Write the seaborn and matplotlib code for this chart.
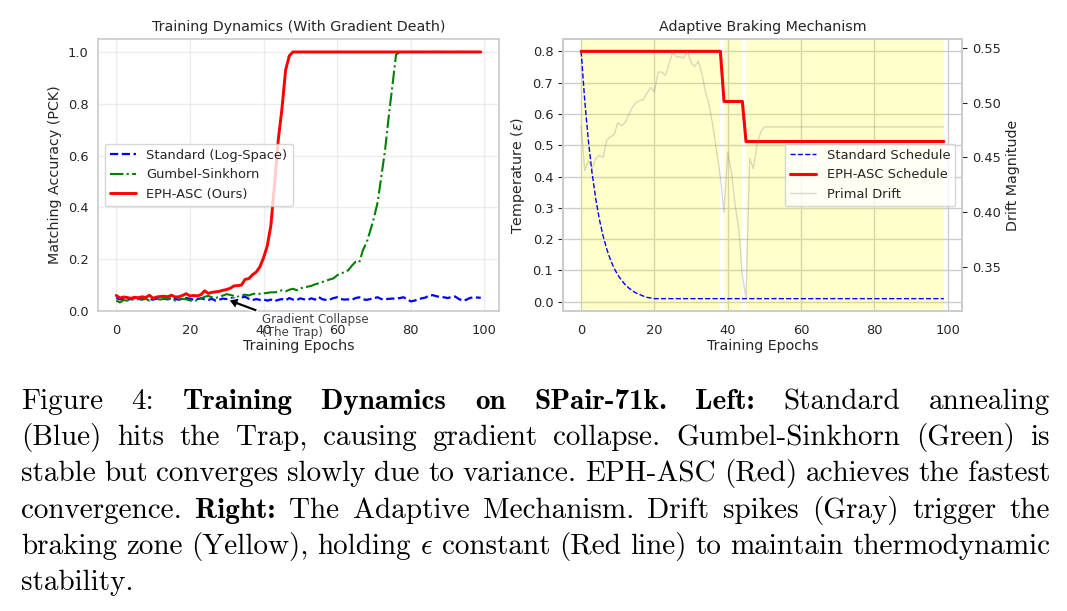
import matplotlib
matplotlib.use("Agg")
import matplotlib.pyplot as plt
from matplotlib.ticker import MultipleLocator
import seaborn as sns
import pandas as pd

W, H = 1067, 611

epochs = list(range(100))

# left panel: matching accuracy (PCK) per epoch
standard_acc = [0.050, 0.045, 0.048, 0.044, 0.046, 0.050, 0.047, 0.045, 0.049, 0.046,
                0.044, 0.048, 0.050, 0.047, 0.045, 0.049, 0.046, 0.044, 0.048, 0.050,
                0.047, 0.044, 0.046, 0.049, 0.045, 0.043, 0.047, 0.040, 0.044, 0.048,
                0.046, 0.050, 0.048, 0.044, 0.052, 0.055, 0.047, 0.042, 0.046, 0.043,
                0.045, 0.040, 0.044, 0.038, 0.043, 0.046, 0.041, 0.050, 0.044, 0.042,
                0.049, 0.045, 0.043, 0.049, 0.044, 0.054, 0.045, 0.043, 0.044, 0.050,
                0.053, 0.046, 0.044, 0.045, 0.043, 0.050, 0.053, 0.045, 0.043, 0.046,
                0.050, 0.053, 0.046, 0.045, 0.047, 0.048, 0.048, 0.050, 0.053, 0.046,
                0.037, 0.040, 0.045, 0.049, 0.052, 0.060, 0.061, 0.057, 0.054, 0.053,
                0.050, 0.054, 0.056, 0.047, 0.040, 0.043, 0.050, 0.053, 0.052, 0.051]
gumbel_acc = [0.040, 0.033, 0.042, 0.040, 0.045, 0.043, 0.046, 0.044, 0.047, 0.040,
              0.045, 0.047, 0.044, 0.048, 0.046, 0.050, 0.040, 0.043, 0.047, 0.045,
              0.041, 0.038, 0.042, 0.048, 0.055, 0.058, 0.053, 0.050, 0.055, 0.060,
              0.065, 0.062, 0.058, 0.055, 0.060, 0.063, 0.060, 0.065, 0.068, 0.066,
              0.068, 0.070, 0.072, 0.072, 0.075, 0.080, 0.076, 0.082, 0.086, 0.080,
              0.088, 0.090, 0.094, 0.097, 0.103, 0.107, 0.112, 0.117, 0.122, 0.126,
              0.138, 0.145, 0.150, 0.157, 0.175, 0.190, 0.188, 0.235, 0.265, 0.310,
              0.360, 0.420, 0.520, 0.620, 0.750, 0.870, 0.990, 1.000, 1.000, 1.000,
              1.000, 1.000, 1.000, 1.000, 1.000, 1.000, 1.000, 1.000, 1.000, 1.000,
              1.000, 1.000, 1.000, 1.000, 1.000, 1.000, 1.000, 1.000, 1.000, 1.000]
eph_acc = [0.060, 0.050, 0.054, 0.052, 0.049, 0.053, 0.051, 0.055, 0.052, 0.061,
           0.049, 0.054, 0.056, 0.057, 0.055, 0.061, 0.054, 0.055, 0.060, 0.067,
           0.058, 0.060, 0.058, 0.063, 0.078, 0.068, 0.072, 0.074, 0.076, 0.080,
           0.083, 0.088, 0.097, 0.098, 0.100, 0.122, 0.125, 0.140, 0.150, 0.170,
           0.205, 0.250, 0.330, 0.490, 0.660, 0.780, 0.930, 0.985, 1.000, 1.000,
           1.000, 1.000, 1.000, 1.000, 1.000, 1.000, 1.000, 1.000, 1.000, 1.000,
           1.000, 1.000, 1.000, 1.000, 1.000, 1.000, 1.000, 1.000, 1.000, 1.000,
           1.000, 1.000, 1.000, 1.000, 1.000, 1.000, 1.000, 1.000, 1.000, 1.000,
           1.000, 1.000, 1.000, 1.000, 1.000, 1.000, 1.000, 1.000, 1.000, 1.000,
           1.000, 1.000, 1.000, 1.000, 1.000, 1.000, 1.000, 1.000, 1.000, 1.000]

# right panel: temperature schedules and drift
standard_eps = [0.800, 0.640, 0.512, 0.410, 0.328, 0.262, 0.210, 0.168, 0.134, 0.107,
                0.086, 0.069, 0.055, 0.044, 0.035, 0.028, 0.023, 0.018, 0.014, 0.012] + [0.010] * 80
eph_eps = [0.800] * 39 + [0.640] * 6 + [0.512] * 55
primal_drift = [0.479, 0.438, 0.447, 0.440, 0.449, 0.452, 0.450, 0.466, 0.469, 0.471,
                0.482, 0.479, 0.482, 0.489, 0.496, 0.500, 0.502, 0.503, 0.509, 0.514,
                0.510, 0.528, 0.528, 0.525, 0.536, 0.546, 0.542, 0.542, 0.541, 0.547,
                0.537, 0.533, 0.538, 0.526, 0.509, 0.497, 0.478, 0.455, 0.432, 0.400,
                0.455, 0.437, 0.407, 0.385, 0.342, 0.321, 0.449, 0.440, 0.461, 0.473] + [0.478] * 50
braking = [1] * 38 + [0] + [1] * 5 + [0] + [1] * 55

caption = [
    "Figure 4: **Training Dynamics on SPair-71k.** **Left:** Standard annealing",
    "(Blue) hits the Trap, causing gradient collapse. Gumbel-Sinkhorn (Green) is",
    "stable but converges slowly due to variance. EPH-ASC (Red) achieves the fastest",
    "convergence. **Right:** The Adaptive Mechanism. Drift spikes (Gray) trigger the",
    "braking zone (Yellow), holding $\\epsilon$ constant (Red line) to maintain thermodynamic",
    "stability.",
]

sns.set_theme(style="whitegrid")
plt.rcParams["font.family"] = ["DejaVu Sans"]
plt.rcParams["xtick.labelsize"] = 9.4
plt.rcParams["ytick.labelsize"] = 9.4
plt.rcParams["ytick.major.size"] = 3.5
plt.rcParams["ytick.major.width"] = 0.8

fig = plt.figure(figsize=(W / 100, H / 100), dpi=100)
ax1 = fig.add_axes([98 / W, 1 - 311 / H, 401 / W, 272 / H])
ax2 = fig.add_axes([563 / W, 1 - 311 / H, 399 / W, 272 / H])

df_acc = pd.DataFrame({"Epoch": epochs, "Standard": standard_acc,
                       "Gumbel": gumbel_acc, "EPH": eph_acc})
sns.lineplot(data=df_acc, x="Epoch", y="Standard", ax=ax1, color="blue",
             linestyle="--", linewidth=1.6, label="Standard (Log-Space)")
sns.lineplot(data=df_acc, x="Epoch", y="Gumbel", ax=ax1, color="green",
             linestyle="-.", linewidth=1.5, label="Gumbel-Sinkhorn")
sns.lineplot(data=df_acc, x="Epoch", y="EPH", ax=ax1, color="red",
             linewidth=2.1, label="EPH-ASC (Ours)")
ax1.set_ylim(0, 1.05)
ax1.grid(True, alpha=0.35)
ax1.set_title("Training Dynamics (With Gradient Death)", fontsize=10.3, color=".15")
ax1.set_xlabel("Training Epochs", fontsize=10.3, labelpad=1.5)
ax1.set_ylabel("Matching Accuracy (PCK)", fontsize=10.3)
ax1.legend(loc="center left", fontsize=9.4)
ax1.annotate("Gradient Collapse\n(The Trap)", xy=(30, 0.045), xytext=(39.6, -0.006),
             va="top", fontsize=8.6, color=".25", linespacing=1.0,
             arrowprops=dict(facecolor="black", shrink=0.05, width=2.6,
                             headwidth=8.5, headlength=7))

# braking zones (yellow), merged into contiguous runs
start = None
for i in range(len(braking) - 1):
    if braking[i] and start is None:
        start = epochs[i]
    if not braking[i] and start is not None:
        ax2.axvspan(start, epochs[i], color="yellow", alpha=0.2, lw=0)
        start = None
if start is not None:
    ax2.axvspan(start, epochs[-1], color="yellow", alpha=0.2, lw=0)

df_eps = pd.DataFrame({"Epoch": epochs, "Standard": standard_eps,
                       "EPH": eph_eps, "Drift": primal_drift})
sns.lineplot(data=df_eps, x="Epoch", y="Standard", ax=ax2, color="blue",
             linestyle="--", linewidth=1.0, label="Standard Schedule")
sns.lineplot(data=df_eps, x="Epoch", y="EPH", ax=ax2, color="red",
             linewidth=2.2, label="EPH-ASC Schedule")
ax2.get_legend().remove()
ax2.yaxis.set_major_locator(MultipleLocator(0.1))
ax2.set_title("Adaptive Braking Mechanism", fontsize=10.3, color=".15")
ax2.set_xlabel("Training Epochs", fontsize=10.3, labelpad=1.5)
ax2.set_ylabel("Temperature ($\\epsilon$)", fontsize=10.3)

ax3 = ax2.twinx()
sns.lineplot(data=df_eps, x="Epoch", y="Drift", ax=ax3, color="gray",
             alpha=0.3, linewidth=1.0, label="Primal Drift")
ax3.grid(False)
ax3.yaxis.set_major_locator(MultipleLocator(0.05))
ax3.set_ylabel("Drift Magnitude", fontsize=10.3)
h1, l1 = ax2.get_legend_handles_labels()
h2, l2 = ax3.get_legend_handles_labels()
ax3.legend(h1 + h2, l1 + l2, loc="center right", fontsize=9.4)

# justified caption below the panels
renderer = fig.canvas.get_renderer()
left, right = 21, 1050
base_y = 409
for n, line in enumerate(caption):
    words = []
    bold = False
    for w in line.split(" "):
        if w.startswith("**"):
            bold = True
            w = w[2:]
        b = bold
        if w.endswith("**"):
            bold = False
            w = w[:-2]
        words.append((w, b))
    texts = []
    for w, b in words:
        t = fig.text(0, 0, w, fontsize=21, family="cmb10" if b else "cmr10",
                     math_fontfamily="cm", va="baseline", ha="left", color="black")
        texts.append(t)
    widths = [t.get_window_extent(renderer).width for t in texts]
    if n < len(caption) - 1:
        gap = (right - left - sum(widths)) / (len(texts) - 1)
    else:
        gap = 8
    x = left
    y = base_y + n * 36.2
    for t, wd in zip(texts, widths):
        t.set_position((x / W, 1 - y / H))
        x += wd + gap

fig.savefig("out.png", dpi=100)
